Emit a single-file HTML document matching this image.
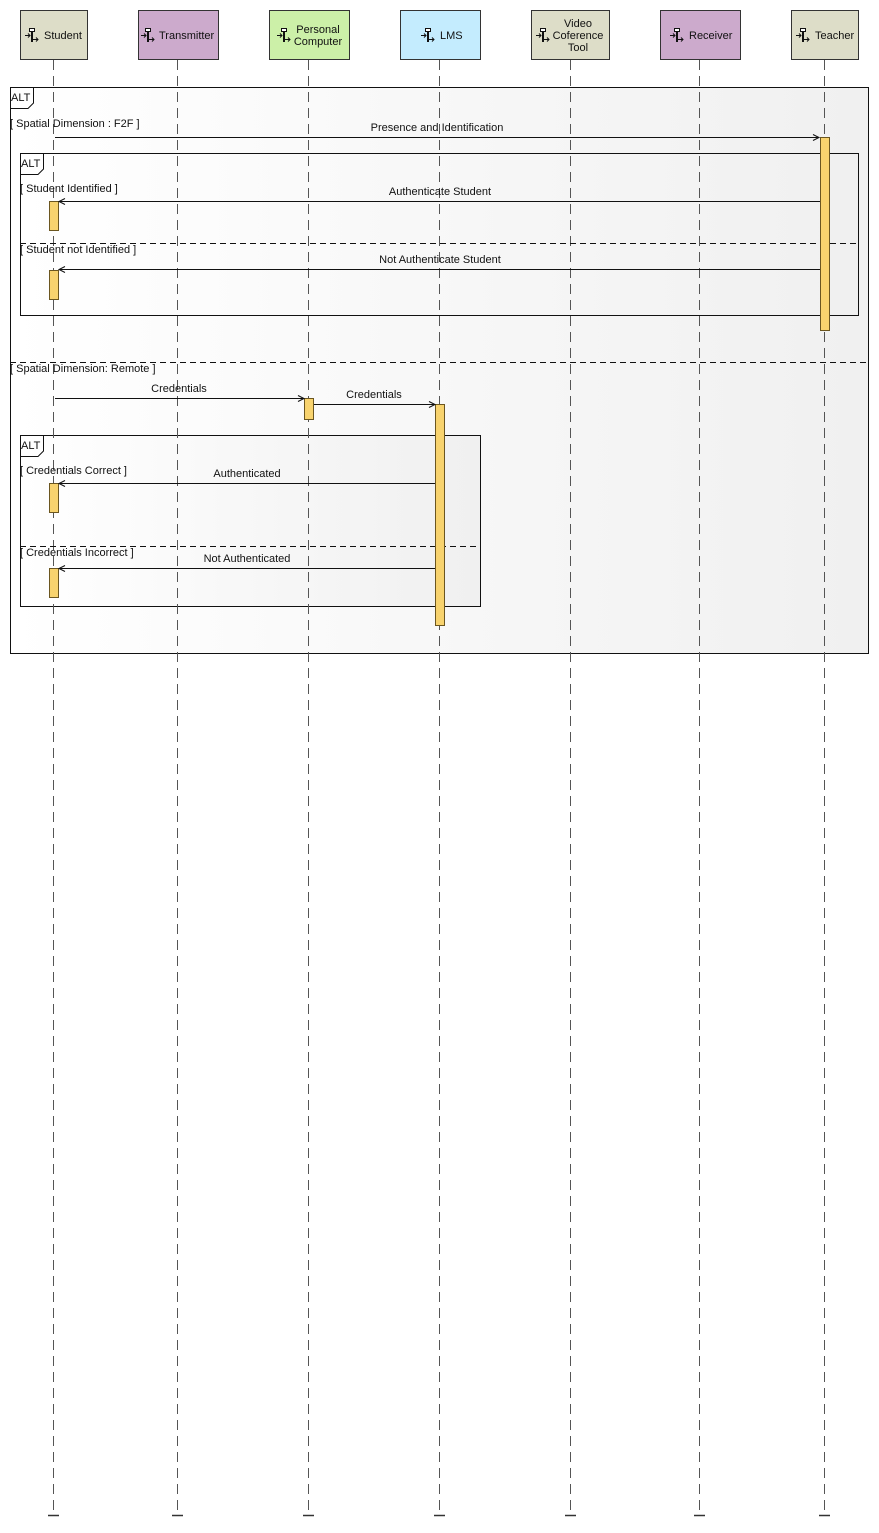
<!DOCTYPE html>
<html><head><meta charset="utf-8"><style>
html,body{margin:0;padding:0;background:#fff}
svg{display:block}
text{font-family:"Liberation Sans",sans-serif;font-size:11px;fill:#111}
</style></head><body>
<svg width="879" height="1533" viewBox="0 0 879 1533" xmlns="http://www.w3.org/2000/svg">
<defs>
<linearGradient id="g" x1="0" x2="1" y1="0" y2="0"><stop offset="0" stop-color="#ffffff"/><stop offset="1" stop-color="#f0f0f0"/></linearGradient>
<g id="ic" fill="none" stroke="#111" stroke-width="1">
<rect x="4.5" y="0.5" width="5" height="3" fill="#fff"/>
<line x1="7" y1="3.5" x2="7" y2="14" stroke-width="2"/>
<line x1="0" y1="7.5" x2="5" y2="7.5"/><path d="M3 5.5 L5 7.5 L3 9.5"/>
<line x1="8" y1="11.5" x2="13" y2="11.5"/><path d="M11 9.5 L13 11.5 L11 13.5"/>
</g>
</defs>
<rect x="10.5" y="87.5" width="858" height="566" fill="url(#g)" stroke="#111"/>
<rect x="20.5" y="153.5" width="838" height="162" fill="url(#g)" stroke="#111"/>
<rect x="20.5" y="435.5" width="460" height="171" fill="url(#g)" stroke="#111"/>
<g stroke="#555" stroke-dasharray="10,6" stroke-width="1">
<line x1="53.5" y1="60" x2="53.5" y2="1514"/>
<line x1="177.5" y1="60" x2="177.5" y2="1514"/>
<line x1="308.5" y1="60" x2="308.5" y2="1514"/>
<line x1="439.5" y1="60" x2="439.5" y2="1514"/>
<line x1="570.5" y1="60" x2="570.5" y2="1514"/>
<line x1="699.5" y1="60" x2="699.5" y2="1514"/>
<line x1="824.5" y1="60" x2="824.5" y2="1514"/>
</g>
<g stroke="#333" stroke-width="1.5">
<line x1="48" y1="1515.5" x2="59" y2="1515.5"/><line x1="172" y1="1515.5" x2="183" y2="1515.5"/>
<line x1="303" y1="1515.5" x2="314" y2="1515.5"/><line x1="434" y1="1515.5" x2="445" y2="1515.5"/>
<line x1="565" y1="1515.5" x2="576" y2="1515.5"/><line x1="694" y1="1515.5" x2="705" y2="1515.5"/>
<line x1="819" y1="1515.5" x2="830" y2="1515.5"/>
</g>
<rect x="20.5" y="10.5" width="67" height="49" fill="#ddddc8" stroke="#333"/>
<rect x="138.5" y="10.5" width="80" height="49" fill="#ccaacc" stroke="#333"/>
<rect x="269.5" y="10.5" width="80" height="49" fill="#ccf0a8" stroke="#333"/>
<rect x="400.5" y="10.5" width="80" height="49" fill="#c4ecfe" stroke="#333"/>
<rect x="531.5" y="10.5" width="78" height="49" fill="#ddddc8" stroke="#333"/>
<rect x="660.5" y="10.5" width="80" height="49" fill="#ccaacc" stroke="#333"/>
<rect x="791.5" y="10.5" width="67" height="49" fill="#ddddc8" stroke="#333"/>
<use href="#ic" x="25" y="28"/><text x="44" y="39">Student</text>
<use href="#ic" x="141" y="28"/><text x="159" y="39">Transmitter</text>
<use href="#ic" x="277" y="28"/><text x="318" y="33" text-anchor="middle">Personal</text><text x="318" y="45" text-anchor="middle">Computer</text>
<use href="#ic" x="421" y="28"/><text x="440" y="39">LMS</text>
<use href="#ic" x="536" y="28"/><text x="578" y="27" text-anchor="middle">Video</text><text x="578" y="39" text-anchor="middle">Coference</text><text x="578" y="51" text-anchor="middle">Tool</text>
<use href="#ic" x="670" y="28"/><text x="689" y="39">Receiver</text>
<use href="#ic" x="796" y="28"/><text x="815" y="39">Teacher</text>
<path d="M10.5 108.5 H28 L33.5 103 V87.5" fill="none" stroke="#111"/><text x="11" y="101">ALT</text>
<path d="M20.5 174.5 H38 L43.5 169 V153.5" fill="none" stroke="#111"/><text x="21" y="167">ALT</text>
<path d="M20.5 456.5 H38 L43.5 451 V435.5" fill="none" stroke="#111"/><text x="21" y="449">ALT</text>
<g stroke="#111" stroke-dasharray="6,4">
<line x1="10" y1="362.5" x2="868" y2="362.5"/>
<line x1="20" y1="243.5" x2="858" y2="243.5"/>
<line x1="20" y1="546.5" x2="480" y2="546.5"/>
</g>
<text x="10" y="127">[ Spatial Dimension : F2F ]</text>
<text x="20" y="192">[ Student Identified ]</text>
<text x="20" y="253">[ Student not Identified ]</text>
<text x="10" y="372">[ Spatial Dimension: Remote ]</text>
<text x="20" y="474">[ Credentials Correct ]</text>
<text x="20" y="556">[ Credentials Incorrect ]</text>
<g fill="#f8d36e" stroke="#6b5620">
<rect x="820.5" y="137.5" width="9" height="193"/>
<rect x="49.5" y="201.5" width="9" height="29"/>
<rect x="49.5" y="270.5" width="9" height="29"/>
<rect x="304.5" y="398.5" width="9" height="21"/>
<rect x="435.5" y="404.5" width="9" height="221"/>
<rect x="49.5" y="483.5" width="9" height="29"/>
<rect x="49.5" y="568.5" width="9" height="29"/>
</g>
<g stroke="#111" fill="none">
<line x1="55" y1="137.5" x2="819" y2="137.5"/><path d="M813 134.5 L819 137.5 L813 140.5"/>
<line x1="59" y1="201.5" x2="820" y2="201.5"/><path d="M65 198.5 L59 201.5 L65 204.5"/>
<line x1="59" y1="269.5" x2="820" y2="269.5"/><path d="M65 266.5 L59 269.5 L65 272.5"/>
<line x1="55" y1="398.5" x2="304" y2="398.5"/><path d="M298 395.5 L304 398.5 L298 401.5"/>
<line x1="314" y1="404.5" x2="435" y2="404.5"/><path d="M429 401.5 L435 404.5 L429 407.5"/>
<line x1="59" y1="483.5" x2="435" y2="483.5"/><path d="M65 480.5 L59 483.5 L65 486.5"/>
<line x1="59" y1="568.5" x2="435" y2="568.5"/><path d="M65 565.5 L59 568.5 L65 571.5"/>
</g>
<text x="437" y="131" text-anchor="middle">Presence and Identification</text>
<text x="440" y="195" text-anchor="middle">Authenticate Student</text>
<text x="440" y="263" text-anchor="middle">Not Authenticate Student</text>
<text x="179" y="392" text-anchor="middle">Credentials</text>
<text x="374" y="398" text-anchor="middle">Credentials</text>
<text x="247" y="477" text-anchor="middle">Authenticated</text>
<text x="247" y="562" text-anchor="middle">Not Authenticated</text>
</svg>
</body></html>
